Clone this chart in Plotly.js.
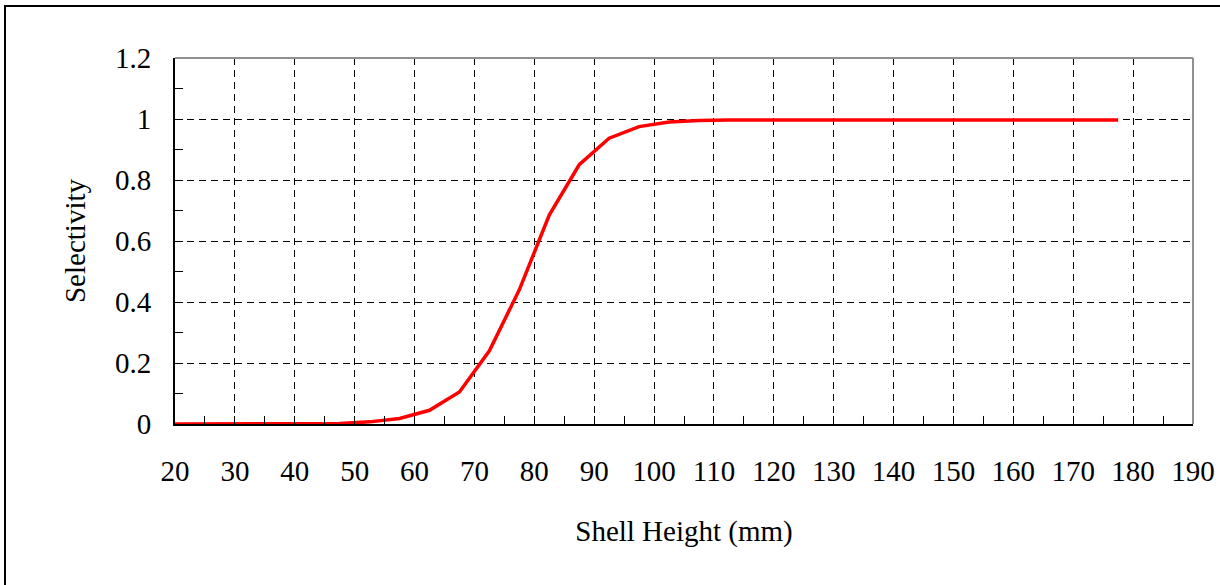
<!DOCTYPE html>
<html>
<head>
<meta charset="utf-8">
<script src="https://cdn.plot.ly/plotly-3.0.1.min.js"></script>
<style>
  html, body { margin: 0; padding: 0; background: #fff; }
  #wrap { position: relative; width: 1220px; height: 585px; overflow: hidden; }
  #frame { position: absolute; left: 4px; top: 5px; width: 1300px; height: 700px; border-left: 2px solid #000; border-top: 2px solid #000; pointer-events: none; }
  #chart { position: absolute; left: 0; top: 0; width: 1220px; height: 585px; }
</style>
</head>
<body>
<div id="wrap">
  <div id="chart"></div>
  <div id="frame"></div>
</div>
<script>
const shellHeight = [17.5, 22.5, 27.5, 32.5, 37.5, 42.5, 47.5, 52.5, 57.5, 62.5, 67.5, 72.5, 77.5, 82.5, 87.5, 92.5, 97.5, 102.5, 107.5, 112.5, 117.5, 122.5, 127.5, 132.5, 137.5, 142.5, 147.5, 152.5, 157.5, 162.5, 167.5, 172.5, 177.5];
const selectivity = [0, 0, 0, 0, 0, 0.0005, 0.002, 0.007, 0.018, 0.045, 0.105, 0.24, 0.44, 0.685, 0.85, 0.937, 0.975, 0.99, 0.995, 0.997, 0.997, 0.997, 0.997, 0.997, 0.997, 0.997, 0.997, 0.997, 0.997, 0.997, 0.997, 0.997, 0.997];
const xTitle = 'Shell Height (mm)';
const yTitle = 'Selectivity';

const font = {family: '"Liberation Serif", "Times New Roman", serif', color: '#000'};
const FS = 29;

const trace = {
  x: shellHeight, y: selectivity, type: 'scatter', mode: 'lines',
  line: {color: '#FF0000', width: 3.5}, cliponaxis: true, hoverinfo: 'skip'
};

const layout = {
  width: 1220, height: 585,
  margin: {l: 175, r: 27, t: 58, b: 161},
  paper_bgcolor: '#fff', plot_bgcolor: '#fff',
  showlegend: false,
  font: Object.assign({size: FS}, font),
  xaxis: {
    range: [20, 190], dtick: 10, tick0: 0,
    showgrid: true, gridcolor: '#000', gridwidth: 1, griddash: '7px,5px',
    zeroline: false, showline: true, linecolor: '#000', linewidth: 2, mirror: false,
    ticks: 'inside', ticklen: 8, tickcolor: '#000', tickwidth: 1,
    minor: {dtick: 5, ticks: 'inside', ticklen: 8, tickcolor: '#000', tickwidth: 1, showgrid: false},
    tickfont: Object.assign({size: FS}, font),
    ticklabelstandoff: 20,
    title: {text: xTitle, font: Object.assign({size: FS}, font), standoff: 35},
    automargin: false, fixedrange: true
  },
  yaxis: {
    range: [0, 1.2], dtick: 0.2, tick0: 0,
    showgrid: true, gridcolor: '#000', gridwidth: 1, griddash: '7px,5px',
    zeroline: false, showline: true, linecolor: '#000', linewidth: 2, mirror: false,
    ticks: 'inside', ticklen: 8, tickcolor: '#000', tickwidth: 1,
    minor: {dtick: 0.1, ticks: 'inside', ticklen: 8, tickcolor: '#000', tickwidth: 1, showgrid: false},
    tickfont: Object.assign({size: FS}, font),
    ticklabelstandoff: 16,
    title: {text: yTitle, font: Object.assign({size: FS}, font), standoff: 21},
    automargin: false, fixedrange: true
  },
  shapes: [
    {type: 'line', xref: 'paper', yref: 'paper', x0: 0, x1: 1, y0: 1, y1: 1, line: {color: '#909090', width: 2}, layer: 'above'},
    {type: 'line', xref: 'paper', yref: 'paper', x0: 1, x1: 1, y0: 0, y1: 1, line: {color: '#909090', width: 2}, layer: 'above'}
  ]
};

Plotly.newPlot('chart', [trace], layout, {staticPlot: true, displayModeBar: false});
</script>
</body>
</html>
